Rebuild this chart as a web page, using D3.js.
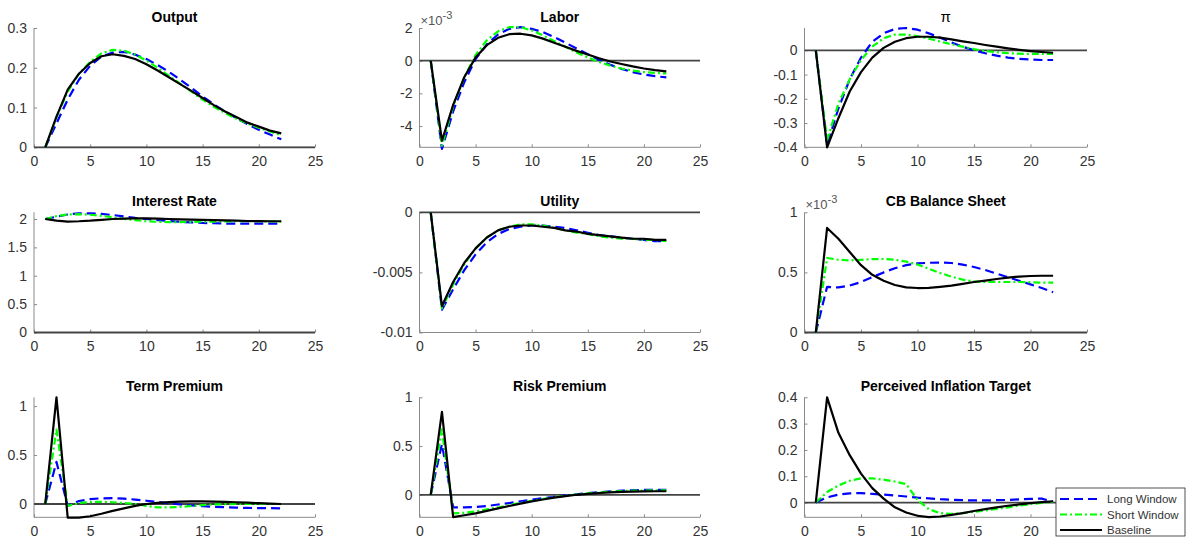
<!DOCTYPE html>
<html>
<head>
<meta charset="utf-8">
<script src="https://cdn.jsdelivr.net/npm/d3@7/dist/d3.min.js"></script>
<style>
  body { margin: 0; background: #fff; }
  svg { display: block; font-family: "Liberation Sans", Arial, sans-serif; }
</style>
</head>
<body>
<svg id="chart" width="1189" height="539"></svg>
<script>
// horizon (quarters)
var periods = [1, 2, 3, 4, 5, 6, 7, 8, 9, 10, 11, 12, 13, 14, 15, 16, 17, 18, 19, 20, 21, 22];
var seriesNames = ["Long Window", "Short Window", "Baseline"];

// Output
var outputLong  = [0, 0.06, 0.12, 0.17, 0.205, 0.228, 0.238, 0.24, 0.233, 0.222, 0.207, 0.19, 0.17, 0.15, 0.128, 0.108, 0.09, 0.073, 0.058, 0.044, 0.032, 0.02];
var outputShort = [0, 0.075, 0.14, 0.185, 0.215, 0.236, 0.245, 0.243, 0.233, 0.218, 0.2, 0.18, 0.16, 0.14, 0.12, 0.102, 0.086, 0.072, 0.06, 0.049, 0.04, 0.03];
var outputBase  = [0, 0.077, 0.145, 0.185, 0.212, 0.229, 0.234, 0.23, 0.222, 0.209, 0.193, 0.176, 0.159, 0.142, 0.124, 0.106, 0.09, 0.076, 0.062, 0.052, 0.042, 0.035];

// Labor (x 1e-3)
var laborLong  = [0, -5.4, -3.1, -1.3, 0.1, 1.0, 1.6, 1.95, 2.05, 1.95, 1.75, 1.45, 1.1, 0.75, 0.4, 0.05, -0.25, -0.5, -0.7, -0.85, -0.95, -1.02];
var laborShort = [0, -5.2, -2.8, -1.0, 0.35, 1.25, 1.8, 2.05, 2.05, 1.85, 1.55, 1.2, 0.85, 0.5, 0.2, -0.08, -0.3, -0.48, -0.6, -0.7, -0.75, -0.78];
var laborBase  = [0, -4.9, -2.7, -1.0, 0.2, 0.95, 1.4, 1.62, 1.65, 1.55, 1.35, 1.1, 0.85, 0.6, 0.38, 0.15, -0.05, -0.2, -0.35, -0.48, -0.58, -0.65];

// Inflation (pi)
var piLong  = [0, -0.39, -0.24, -0.12, -0.03, 0.035, 0.07, 0.088, 0.092, 0.085, 0.07, 0.052, 0.033, 0.015, 0.0, -0.012, -0.022, -0.03, -0.035, -0.038, -0.04, -0.04];
var piShort = [0, -0.37, -0.22, -0.12, -0.04, 0.015, 0.05, 0.065, 0.065, 0.058, 0.048, 0.036, 0.025, 0.015, 0.005, -0.003, -0.008, -0.012, -0.014, -0.015, -0.015, -0.015];
var piBase  = [0, -0.4, -0.28, -0.17, -0.09, -0.03, 0.01, 0.035, 0.05, 0.056, 0.056, 0.052, 0.045, 0.037, 0.03, 0.022, 0.015, 0.008, 0.002, -0.003, -0.007, -0.01];

// Interest Rate
var rateLong  = [2.0, 2.04, 2.08, 2.1, 2.1, 2.09, 2.07, 2.045, 2.02, 2.0, 1.98, 1.965, 1.95, 1.94, 1.93, 1.925, 1.92, 1.918, 1.918, 1.918, 1.92, 1.92];
var rateShort = [2.0, 2.05, 2.08, 2.085, 2.075, 2.055, 2.03, 2.0, 1.98, 1.96, 1.95, 1.945, 1.945, 1.948, 1.952, 1.955, 1.958, 1.96, 1.96, 1.96, 1.958, 1.955];
var rateBase  = [2.0, 1.97, 1.955, 1.96, 1.97, 1.985, 2.0, 2.005, 2.01, 2.01, 2.005, 2.0, 1.995, 1.99, 1.985, 1.98, 1.975, 1.97, 1.965, 1.962, 1.96, 1.96];

// Utility
var utilLong  = [0, -0.0081, -0.0064, -0.0048, -0.0035, -0.0025, -0.0018, -0.0014, -0.0012, -0.0011, -0.0011, -0.0012, -0.0013, -0.0015, -0.0017, -0.0019, -0.002, -0.0021, -0.0022, -0.0023, -0.0024, -0.0024];
var utilShort = [0, -0.008, -0.006, -0.0043, -0.003, -0.0021, -0.0015, -0.0012, -0.001, -0.001, -0.0011, -0.0013, -0.0015, -0.0017, -0.0018, -0.002, -0.0021, -0.0022, -0.0022, -0.0023, -0.0023, -0.0024];
var utilBase  = [0, -0.0078, -0.0058, -0.0042, -0.003, -0.0021, -0.0015, -0.0012, -0.0011, -0.0011, -0.0012, -0.0013, -0.0015, -0.0016, -0.0018, -0.0019, -0.002, -0.0021, -0.0022, -0.0022, -0.0023, -0.0023];

// CB Balance Sheet (x 1e-3)
var cbLong  = [0, 0.38, 0.375, 0.39, 0.42, 0.46, 0.5, 0.535, 0.56, 0.575, 0.58, 0.582, 0.578, 0.565, 0.545, 0.52, 0.49, 0.46, 0.43, 0.4, 0.37, 0.335];
var cbShort = [0, 0.62, 0.605, 0.6, 0.605, 0.61, 0.612, 0.605, 0.59, 0.565, 0.53, 0.495, 0.465, 0.44, 0.425, 0.42, 0.42, 0.42, 0.42, 0.418, 0.415, 0.415];
var cbBase  = [0, 0.87, 0.78, 0.67, 0.56, 0.48, 0.43, 0.395, 0.375, 0.37, 0.372, 0.38, 0.39, 0.405, 0.42, 0.432, 0.445, 0.457, 0.465, 0.47, 0.472, 0.472];

// Term Premium
var termLong  = [0, 0.43, -0.02, 0.03, 0.05, 0.058, 0.06, 0.055, 0.045, 0.033, 0.02, 0.007, -0.005, -0.015, -0.022, -0.028, -0.033, -0.037, -0.04, -0.042, -0.043, -0.044];
var termShort = [0, 0.76, -0.02, 0.01, 0.02, 0.022, 0.018, 0.01, 0.0, -0.02, -0.035, -0.035, -0.03, -0.02, -0.012, -0.005, -0.002, 0.0, 0.0, 0.0, 0.0, 0.0];
var termBase  = [0, 1.09, -0.14, -0.14, -0.125, -0.1, -0.07, -0.045, -0.02, 0.0, 0.012, 0.02, 0.025, 0.027, 0.027, 0.025, 0.022, 0.018, 0.013, 0.008, 0.004, 0.0];

// Risk Premium
var riskLong  = [0, 0.52, -0.13, -0.13, -0.125, -0.115, -0.1, -0.085, -0.068, -0.05, -0.035, -0.02, -0.007, 0.005, 0.016, 0.026, 0.035, 0.042, 0.047, 0.05, 0.05, 0.05];
var riskShort = [0, 0.67, -0.19, -0.185, -0.17, -0.15, -0.13, -0.105, -0.085, -0.063, -0.043, -0.025, -0.01, 0.003, 0.015, 0.024, 0.032, 0.038, 0.042, 0.044, 0.045, 0.045];
var riskBase  = [0, 0.85, -0.23, -0.21, -0.19, -0.165, -0.14, -0.115, -0.09, -0.068, -0.048, -0.03, -0.014, 0.0, 0.01, 0.018, 0.025, 0.03, 0.033, 0.035, 0.036, 0.036];

// Perceived Inflation Target
var pitLong  = [0, 0.02, 0.03, 0.035, 0.036, 0.033, 0.03, 0.027, 0.023, 0.019, 0.016, 0.013, 0.011, 0.009, 0.008, 0.008, 0.009, 0.01, 0.012, 0.014, 0.015, 0.003];
var pitShort = [0, 0.04, 0.065, 0.083, 0.092, 0.092, 0.087, 0.08, 0.07, 0.01, -0.025, -0.04, -0.043, -0.04, -0.035, -0.03, -0.024, -0.018, -0.012, -0.006, -0.001, 0.003];
var pitBase  = [0, 0.4, 0.265, 0.18, 0.11, 0.055, 0.015, -0.018, -0.038, -0.05, -0.055, -0.053, -0.047, -0.04, -0.032, -0.025, -0.018, -0.012, -0.007, -0.002, 0.002, 0.005];

var xTicks = [0, 5, 10, 15, 20, 25];

// panel layout
var cols = [{x0: 34, x1: 315}, {x0: 419.5, x1: 700}, {x0: 804.5, x1: 1087}];
var rows = [{top: 28, bottom: 147.3}, {top: 212.3, bottom: 332.5}, {top: 397.3, bottom: 517.3}];

var panels = [
  {title: "Output", data: [outputLong, outputShort, outputBase], yDomain: [0, 0.3], yTicks: [0, 0.1, 0.2, 0.3], yLabels: ["0", "0.1", "0.2", "0.3"]},
  {title: "Labor", data: [laborLong, laborShort, laborBase], yDomain: [-5.3, 2], yTicks: [-4, -2, 0, 2], yLabels: ["-4", "-2", "0", "2"], exponent: true},
  {title: "\u03c0", data: [piLong, piShort, piBase], yDomain: [-0.4, 0.092], yTicks: [-0.4, -0.3, -0.2, -0.1, 0], yLabels: ["-0.4", "-0.3", "-0.2", "-0.1", "0"], plain: true},
  {title: "Interest Rate", data: [rateLong, rateShort, rateBase], yDomain: [0, 2.118], yTicks: [0, 0.5, 1, 1.5, 2], yLabels: ["0", "0.5", "1", "1.5", "2"]},
  {title: "Utility", data: [utilLong, utilShort, utilBase], yDomain: [-0.01, 0], yTicks: [-0.01, -0.005, 0], yLabels: ["-0.01", "-0.005", "0"]},
  {title: "CB Balance Sheet", data: [cbLong, cbShort, cbBase], yDomain: [0, 1], yTicks: [0, 0.5, 1], yLabels: ["0", "0.5", "1"], exponent: true},
  {title: "Term Premium", data: [termLong, termShort, termBase], yDomain: [-0.136, 1.09], yTicks: [0, 0.5, 1], yLabels: ["0", "0.5", "1"]},
  {title: "Risk Premium", data: [riskLong, riskShort, riskBase], yDomain: [-0.231, 1], yTicks: [0, 0.5, 1], yLabels: ["0", "0.5", "1"]},
  {title: "Perceived Inflation Target", data: [pitLong, pitShort, pitBase], yDomain: [-0.056, 0.4], yTicks: [0, 0.1, 0.2, 0.3, 0.4], yLabels: ["0", "0.1", "0.2", "0.3", "0.4"]}
];

var styles = [
  {color: "#0000ff", dash: "9,5", width: 2.2},
  {color: "#00ff00", dash: "7,3,2,3", width: 2.2},
  {color: "#000000", dash: null, width: 2.2}
];

var axisColor = "#8a8a8a";
var textColor = "#333333";

var svg = d3.select("#chart");

panels.forEach(function(p, i) {
  var c = cols[i % 3], r = rows[Math.floor(i / 3)];
  var x = d3.scaleLinear().domain([0, 25]).range([c.x0, c.x1]);
  var y = d3.scaleLinear().domain(p.yDomain).range([r.bottom, r.top]);
  var g = svg.append("g");

  // x axis
  var xa = g.append("g")
    .attr("transform", "translate(0," + r.bottom + ")")
    .call(d3.axisBottom(x).tickValues(xTicks).tickFormat(d3.format("d")).tickSizeInner(-3).tickSizeOuter(0).tickPadding(9));
  // y axis
  var ya = g.append("g")
    .attr("transform", "translate(" + c.x0 + ",0)")
    .call(d3.axisLeft(y).tickValues(p.yTicks).tickFormat(function(d, k) { return p.yLabels[k]; }).tickSizeInner(-3).tickSizeOuter(0).tickPadding(7));

  [xa, ya].forEach(function(a) {
    a.select(".domain").attr("stroke", axisColor).attr("stroke-width", 1);
    a.selectAll(".tick line").attr("stroke", axisColor);
    a.selectAll(".tick text").attr("fill", textColor).style("font-size", "14px");
  });
  ya.select(".domain").attr("d", "M0," + r.bottom + "V" + r.top);
  xa.select(".domain").attr("d", "M" + c.x0 + ",0H" + c.x1);

  // zero line
  g.append("line")
    .attr("x1", x(0)).attr("x2", x(25))
    .attr("y1", y(0)).attr("y2", y(0))
    .attr("stroke", "#444").attr("stroke-width", 1.8);

  // series
  var line = d3.line().x(function(d, k) { return x(periods[k]); }).y(function(d) { return y(d); });
  p.data.forEach(function(arr, s) {
    g.append("path")
      .datum(arr)
      .attr("d", line)
      .attr("fill", "none")
      .attr("stroke", styles[s].color)
      .attr("stroke-width", styles[s].width)
      .attr("stroke-dasharray", styles[s].dash)
      .attr("stroke-linejoin", "round");
  });

  // title
  g.append("text")
    .attr("x", (c.x0 + c.x1) / 2)
    .attr("y", r.top - 6)
    .attr("text-anchor", "middle")
    .attr("fill", "#000")
    .style("font-size", p.plain ? "15px" : "14px")
    .style("font-weight", p.plain ? "normal" : "bold")
    .text(p.title);

  if (p.exponent) {
    var t = g.append("text")
      .attr("x", c.x0 + 1)
      .attr("y", r.top - 3)
      .attr("fill", "#555")
      .style("font-size", "13px");
    t.append("tspan").text("\u00d710");
    t.append("tspan").attr("dy", -6).style("font-size", "11px").text("-3");
  }
});

// legend
var lg = svg.append("g").attr("transform", "translate(1056,488)");
lg.append("rect")
  .attr("width", 129).attr("height", 48)
  .attr("fill", "#fff").attr("stroke", "#262626").attr("stroke-width", 0.8);
seriesNames.forEach(function(name, s) {
  var yy = 11 + s * 15.5;
  lg.append("line")
    .attr("x1", 4).attr("x2", 46)
    .attr("y1", yy).attr("y2", yy)
    .attr("stroke", styles[s].color)
    .attr("stroke-width", styles[s].width)
    .attr("stroke-dasharray", styles[s].dash);
  lg.append("text")
    .attr("x", 51).attr("y", yy + 4)
    .attr("fill", textColor)
    .style("font-size", "11.5px")
    .text(name);
});
</script>
</body>
</html>
